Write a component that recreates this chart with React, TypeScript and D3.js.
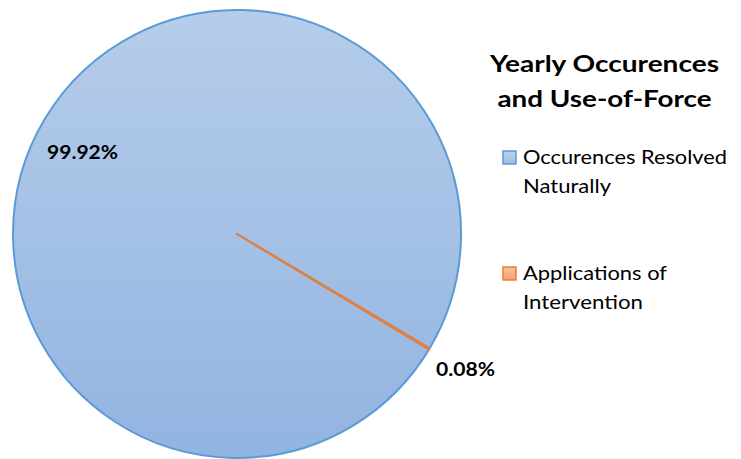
import React from "react";
import * as d3 from "d3";

const categories = ["Occurences Resolved Naturally", "Applications of Intervention"];
const values = [99.92, 0.08];
const labels = ["99.92%", "0.08%"];
const legendLines = [["Occurences Resolved", "Naturally"], ["Applications of", "Intervention"]];
const titleLines = ["Yearly Occurences", "and Use-of-Force"];

const W = 741, H = 459;
const cx = 237, cy = 234, R = 224;
const FONT = "Lato, 'Open Sans', 'DejaVu Sans', sans-serif";

export default function App() {
  const start = (121 * Math.PI) / 180;
  const pie = d3.pie<number>().sort(null).startAngle(start).endAngle(start + 2 * Math.PI);
  const arcs = pie(values);
  const arc = d3.arc<d3.PieArcDatum<number>>().innerRadius(0).outerRadius(R);
  const fills = ["url(#gBlueAbs)", "url(#gOrange)"];
  const strokes = ["#5b9bd5", "#ed7d31"];
  const labelPos = [
    { x: 47, y: 159, w: 71 },
    { x: 436, y: 376, w: 59 },
  ];
  const legendWidths = [[204, 88], [144, 120]];
  return (
    <svg width={W} height={H} style={{ position: "absolute", left: 0, top: 0 }}>
      <defs>
        <linearGradient id="gBlueAbs" x1="0" y1={-R} x2="0" y2={R} gradientUnits="userSpaceOnUse">
          <stop offset="0" stopColor="#b6cdea" />
          <stop offset="1" stopColor="#92b4e1" />
        </linearGradient>
        <linearGradient id="gOrange" x1="0" y1="0" x2="0" y2="1">
          <stop offset="0" stopColor="#f7bfa0" />
          <stop offset="1" stopColor="#f2a274" />
        </linearGradient>
        <linearGradient id="gBlueSw" x1="0" y1="0" x2="0" y2="1">
          <stop offset="0" stopColor="#bcd2ec" />
          <stop offset="1" stopColor="#9cbce4" />
        </linearGradient>
      </defs>
      <rect width={W} height={H} fill="#ffffff" />
      <g transform={`translate(${cx},${cy})`}>
        {arcs.map((a, i) => (
          <path key={categories[i]} d={arc(a) || ""} fill={fills[i]}
            stroke={strokes[i]} strokeWidth={2} strokeLinejoin="round" />
        ))}
      </g>
      {labels.map((t, i) => (
        <text key={t} x={labelPos[i].x} y={labelPos[i].y} fontFamily={FONT} fontWeight="bold"
          fontSize={19.5} fill="#000" textLength={labelPos[i].w} lengthAdjust="spacingAndGlyphs">{t}</text>
      ))}
      {titleLines.map((t, i) => (
        <text key={t} x={604.5} y={71.5 + i * 35} textAnchor="middle" fontFamily={FONT}
          fontWeight="bold" fontSize={23} fill="#000"
          textLength={i === 0 ? 229 : 214} lengthAdjust="spacingAndGlyphs">{t}</text>
      ))}
      {legendLines.map((lines, i) => {
        const y0 = i === 0 ? 151 : 267;
        return (
          <g key={categories[i]}>
            <rect x={503} y={y0} width={13} height={13} fill={i === 0 ? "url(#gBlueSw)" : "url(#gOrange)"}
              stroke={strokes[i]} strokeWidth={1.5} />
            {lines.map((l, j) => (
              <text key={l} x={523} y={y0 + 13 + j * 29} fontFamily={FONT} fontSize={20} fill="#000"
                textLength={legendWidths[i][j]} lengthAdjust="spacingAndGlyphs">{l}</text>
            ))}
          </g>
        );
      })}
    </svg>
  );
}
